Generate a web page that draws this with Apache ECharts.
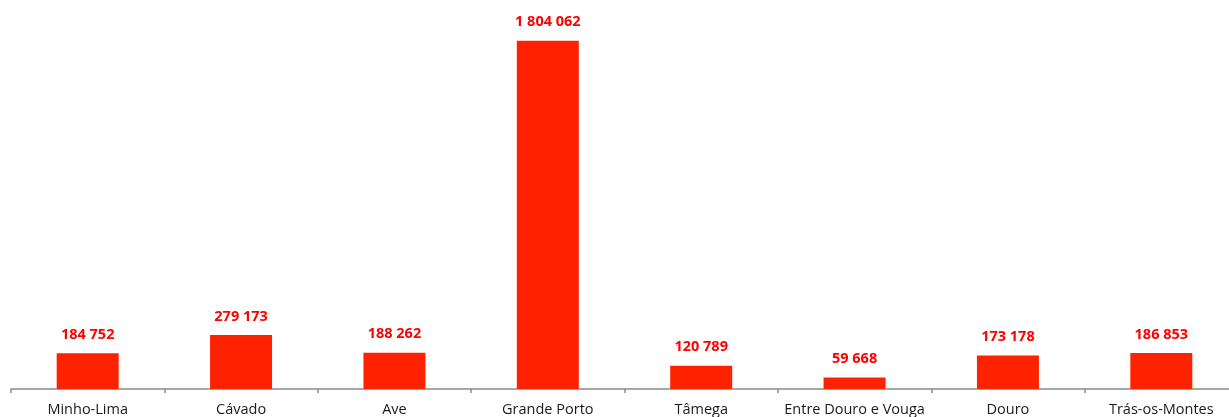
<!DOCTYPE html>
<html>
<head>
<meta charset="utf-8">
<script src="https://cdn.jsdelivr.net/npm/echarts@6/dist/echarts.min.js"></script>
<style>
  html, body { margin: 0; padding: 0; background: #fff; }
  #chart { width: 1229px; height: 417px; }
</style>
</head>
<body>
<div id="chart"></div>
<script>
// Regions of the Norte area and their values
const regions = ['Minho-Lima', 'Cávado', 'Ave', 'Grande Porto', 'Tâmega', 'Entre Douro e Vouga', 'Douro', 'Trás-os-Montes'];
const values = [184752, 279173, 188262, 1804062, 120789, 59668, 173178, 186853];

// Thousands separated by a space, e.g. 1 804 062
function fmt(v) {
  return String(v).replace(/\B(?=(\d{3})+(?!\d))/g, ' ');
}

const chart = echarts.init(document.getElementById('chart'), null, { renderer: 'canvas' });
chart.setOption({
  animation: false,
  grid: { left: 11, width: 1227, top: 3, bottom: 28, containLabel: false, outerBoundsMode: 'none' },
  xAxis: {
    type: 'category',
    data: regions,
    axisLine: { lineStyle: { color: '#8c8c8c', width: 1.5 } },
    axisTick: { show: true, length: 4, alignWithLabel: false, lineStyle: { color: '#8c8c8c', width: 1.5 } },
    axisLabel: {
      color: '#1a1a1a',
      fontFamily: 'Open Sans',
      fontSize: 14.5,
      margin: 13,
      interval: 0
    }
  },
  yAxis: {
    type: 'value',
    min: 0,
    max: 2000000,
    show: false,
    splitLine: { show: false }
  },
  series: [{
    type: 'bar',
    data: values,
    barWidth: 62,
    itemStyle: { color: '#ff2200' },
    label: {
      show: true,
      position: 'top',
      distance: 11,
      color: '#ff0000',
      fontFamily: 'Open Sans',
      fontWeight: 'bold',
      fontSize: 14.5,
      formatter: p => fmt(p.value)
    }
  }]
});
</script>
</body>
</html>
